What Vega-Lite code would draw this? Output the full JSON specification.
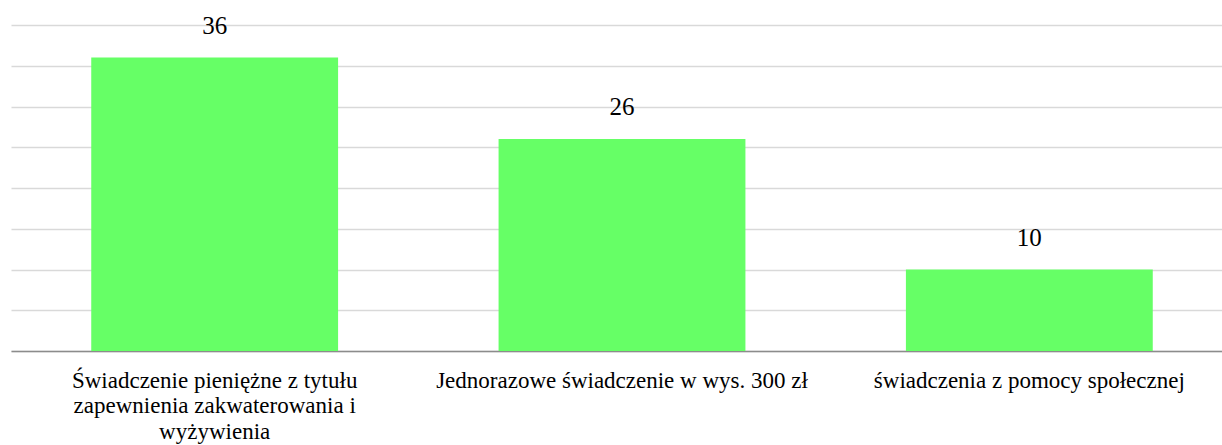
{
  "$schema": "https://vega.github.io/schema/vega-lite/v6.json",
  "width": 1211,
  "height": 326,
  "autosize": {"type": "none"},
  "padding": {"left": 11, "top": 25, "right": 0, "bottom": 94},
  "background": "white",
  "config": {"view": {"stroke": null}, "font": "'Liberation Serif', 'DejaVu Serif', serif"},
  "data": {"values": [
    {"kategoria": "Świadczenie pieniężne z tytułu zapewnienia zakwaterowania i wyżywienia", "liczba": 36},
    {"kategoria": "Jednorazowe świadczenie w wys. 300 zł", "liczba": 26},
    {"kategoria": "świadczenia z pomocy społecznej", "liczba": 10}
  ]},
  "encoding": {
    "x": {
      "field": "kategoria", "type": "nominal", "sort": null,
      "scale": {"range": [0, 1222], "paddingInner": 0.394, "paddingOuter": 0.197},
      "axis": {
        "title": null, "labelAngle": 0, "ticks": false, "domainColor": "#8c8c8c", "domainWidth": 1.5,
        "labelFont": "'Liberation Serif', 'DejaVu Serif', serif", "labelFontSize": 23, "labelColor": "#000000",
        "labelLimit": 0, "labelPadding": 36, "labelLineHeight": 25.5, "labelBaseline": "alphabetic",
        "labelExpr": "datum.value == 'Świadczenie pieniężne z tytułu zapewnienia zakwaterowania i wyżywienia' ? ['Świadczenie pieniężne z tytułu', 'zapewnienia zakwaterowania i', 'wyżywienia'] : datum.label"
      }
    },
    "y": {
      "field": "liczba", "type": "quantitative",
      "scale": {"domain": [0, 40], "nice": false},
      "axis": {"title": null, "labels": false, "ticks": false, "domain": false, "values": [0, 5, 10, 15, 20, 25, 30, 35, 40], "gridColor": "#d9d9d9", "gridWidth": 1.5}
    }
  },
  "layer": [
    {"mark": {"type": "bar", "color": "#66ff66"}},
    {"mark": {"type": "text", "dy": -24, "baseline": "alphabetic", "font": "'Liberation Serif', 'DejaVu Serif', serif", "fontSize": 25, "color": "#000000"},
     "encoding": {"text": {"field": "liczba", "type": "quantitative"}}}
  ]
}
